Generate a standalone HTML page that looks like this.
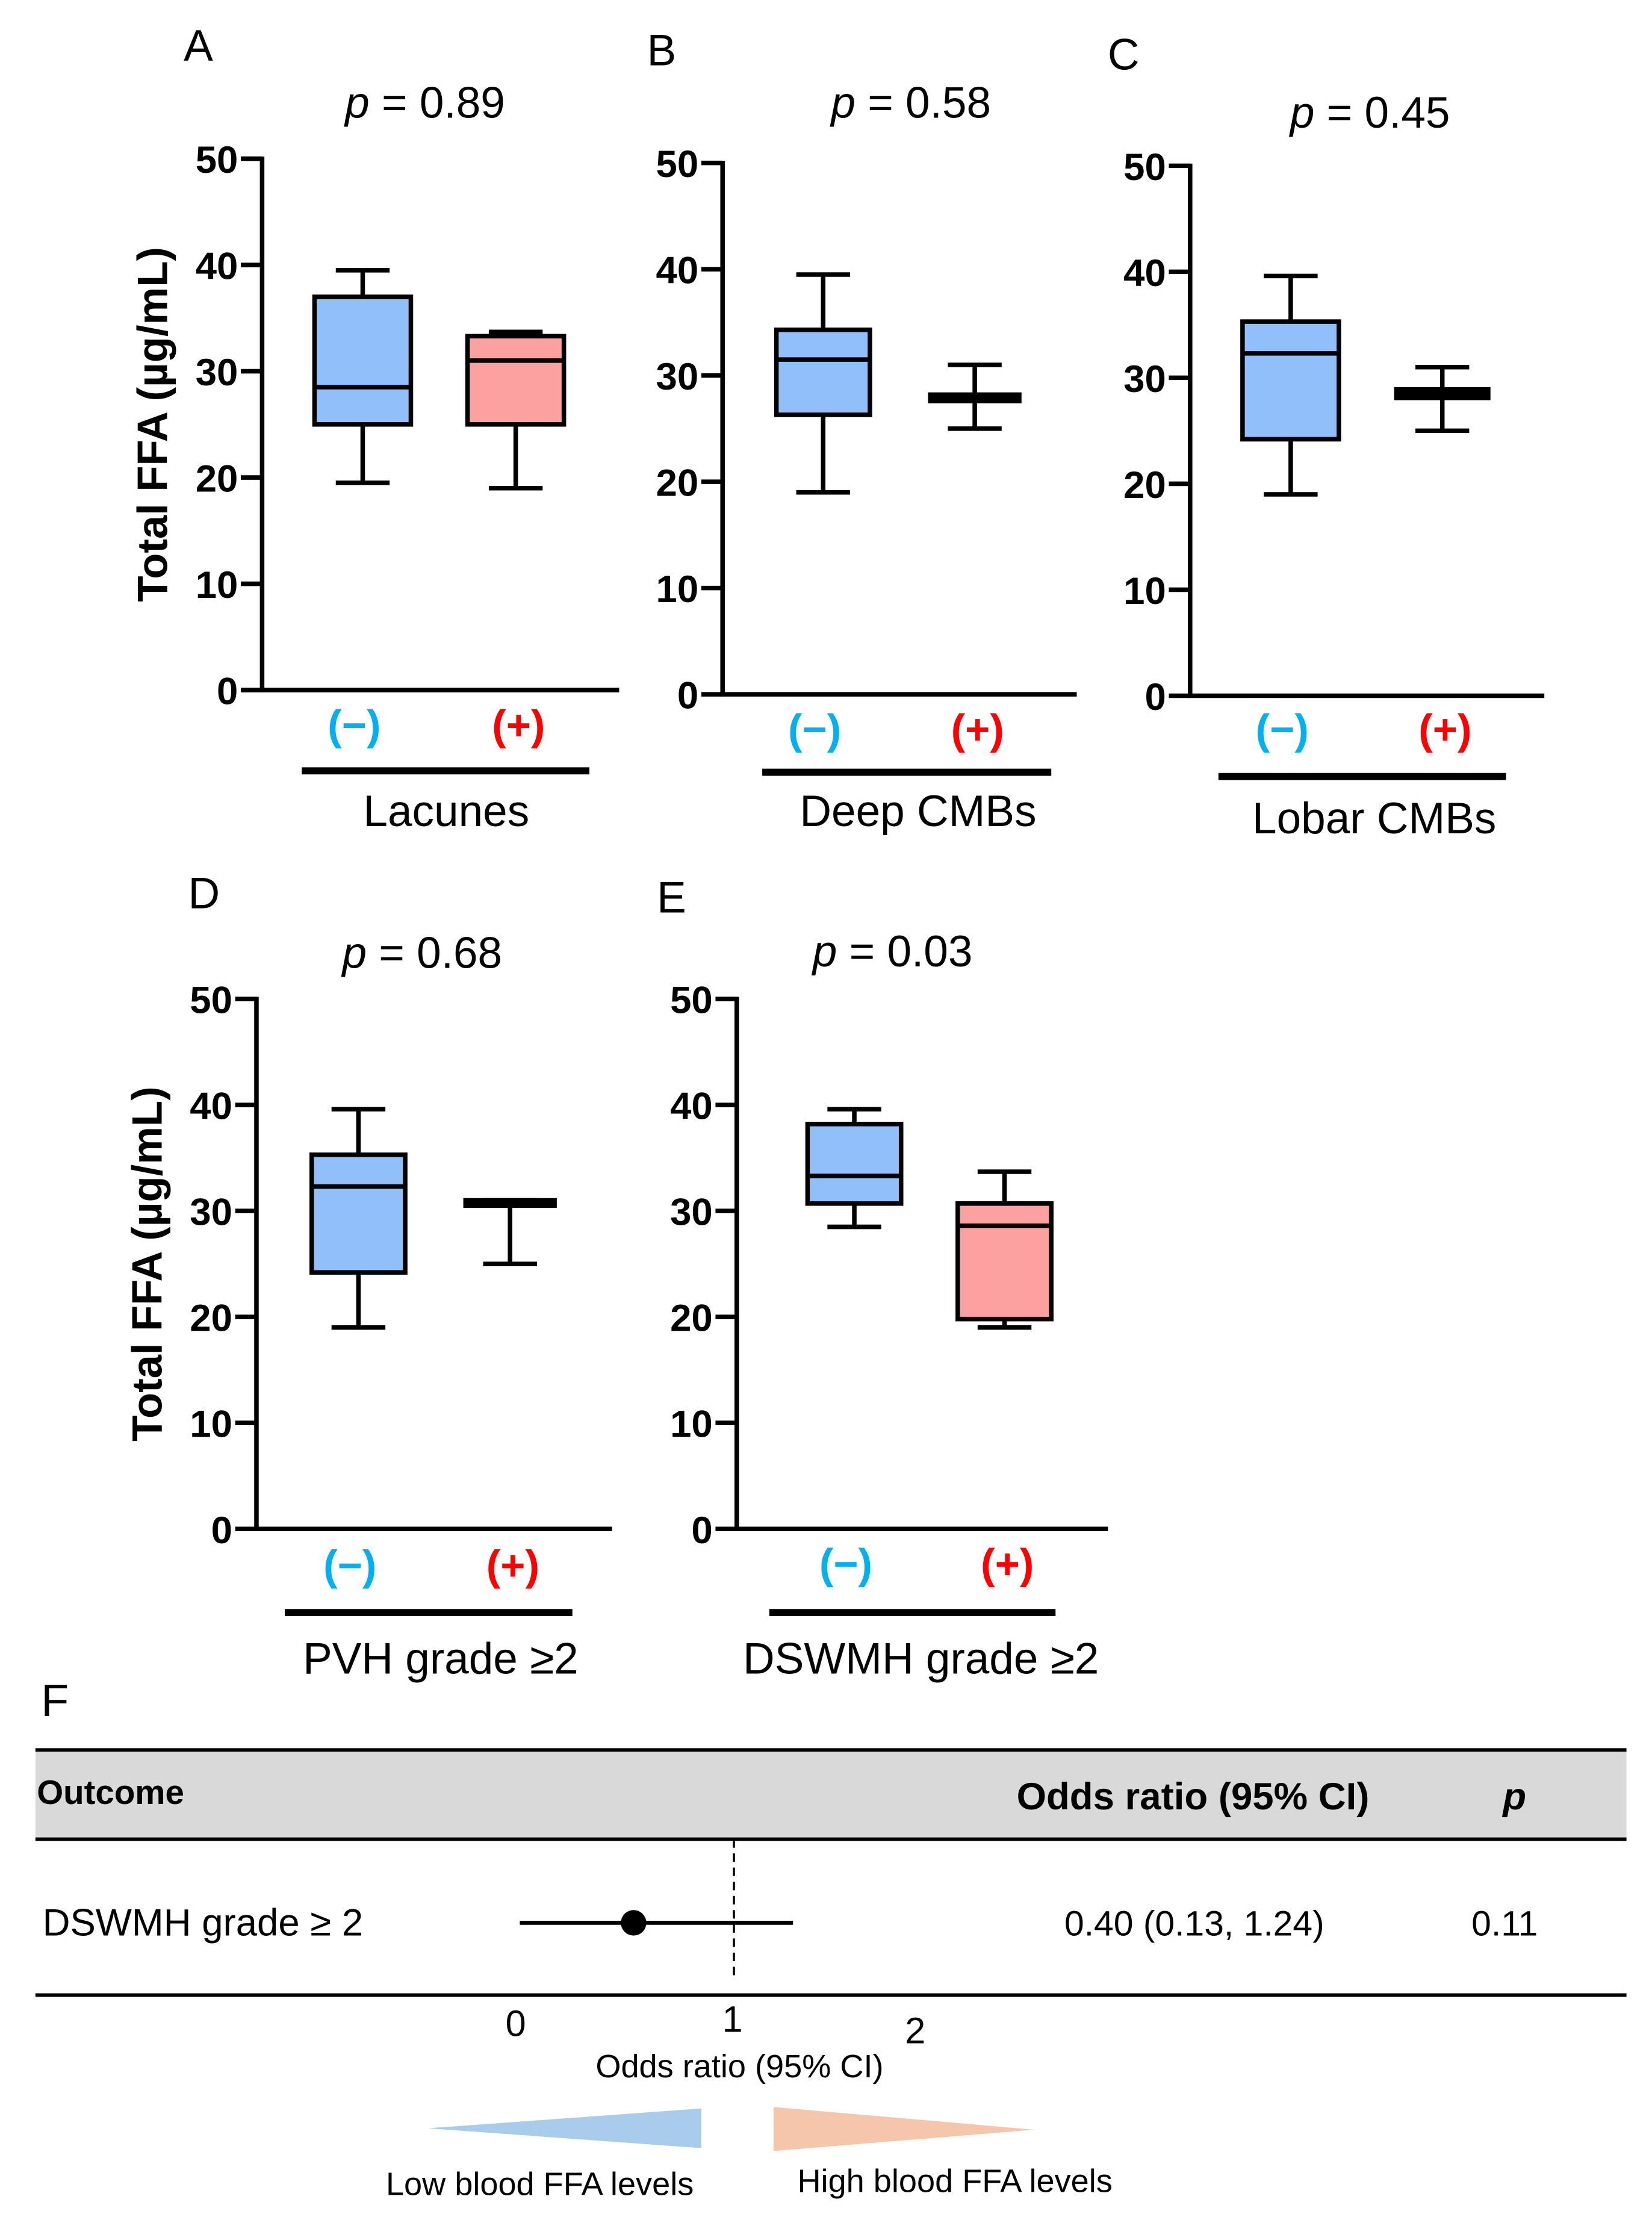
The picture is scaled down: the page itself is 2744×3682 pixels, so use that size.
<!DOCTYPE html>
<html><head><meta charset="utf-8"><style>
html,body{margin:0;padding:0;background:#fff}
svg{display:block}
text{font-family:"Liberation Sans",Arial,sans-serif}
</style></head><body>
<svg id="fig" width="2744" height="3682" viewBox="0 0 1166 1564.6" xmlns="http://www.w3.org/2000/svg">
<rect width="1166" height="1565" fill="#fff"/>
<g id="panels"></g>
<g id="forest"></g>
</svg>
<script>
const NS="http://www.w3.org/2000/svg";
const panelLetters=["A","B","C","D","E"];
const pValues=["0.89","0.58","0.45","0.68","0.03"];
const groupNames=["Lacunes","Deep CMBs","Lobar CMBs","PVH grade \u22652","DSWMH grade \u22652"];
const yTicks=[0,10,20,30,40,50];
// [min,q1,median,q3,max]
const negStats=[[19.5,25,28.5,37,39.5],[19,26.3,31.5,34.3,39.5],[19,24.2,32.3,35.3,39.6],[19,24.2,32.3,35.3,39.6],[28.5,30.7,33.3,38.2,39.6]];
const posStats=[[19,25,31,33.3,33.7],[25,27.6,28,28.2,31],[25,28.1,28.5,28.9,31],[25,30.5,30.8,31,31],[19,19.8,28.6,30.7,33.7]];
// layout (not data)
const L=[
 {ax:185,y50:112,y0:487,xe:437,c1:256,c2:364,bw:68,lx:140,ly:32,py:72,pc:300,barY:544,bx1:213,bx2:416,gc:315,gy:572,cy:511,yt:true},
 {ax:510,y50:115,y0:490,xe:760,c1:581,c2:688,bw:66,lx:467,ly:35,py:72,pc:643,barY:545,bx1:538,bx2:742,gc:648,gy:572,cy:514},
 {ax:840,y50:117,y0:491,xe:1090,c1:911,c2:1018,bw:68,lx:793,ly:38,py:79,pc:967,barY:548,bx1:860,bx2:1063,gc:970,gy:577,cy:514},
 {ax:181,y50:705,y0:1079,xe:432,c1:253,c2:360,bw:66,lx:144,ly:630,py:672,pc:298,barY:1138,bx1:201,bx2:404,gc:311,gy:1170,cy:1104,yt:true},
 {ax:520,y50:705,y0:1079,xe:782,c1:603,c2:709,bw:66,lx:474,ly:633,py:671,pc:630,barY:1138,bx1:543,bx2:745,gc:650,gy:1170,cy:1103}
];
function el(tag,attrs,parent,txt){const e=document.createElementNS(NS,tag);for(const k in attrs)e.setAttribute(k,attrs[k]);if(txt!==undefined)e.textContent=txt;parent.appendChild(e);return e;}
const panels=document.getElementById('panels');
L.forEach((g,i)=>{
 const G=el('g',{},panels);
 
 
 const y=v=>g.y0+(g.y50-g.y0)*v/50;
 const t=el('text',{x:g.lx,y:g.ly+11,'font-size':31,'text-anchor':'middle'},G,panelLetters[i]);
 
 const p=el('text',{x:g.pc,y:g.py+11,'font-size':31,'text-anchor':'middle'},G);
 
 el('tspan',{'font-style':'italic'},p,'p');el('tspan',{},p,' = '+pValues[i]);
 const ax=el('path',{d:`M${g.ax} ${y(50)-1.5}V${g.y0}H${g.xe}`,stroke:'#000','stroke-width':3.2,fill:'none'},G);
 
 yTicks.forEach(v=>{
  el('line',{x1:g.ax-15,x2:g.ax,y1:y(v),y2:y(v),stroke:'#000','stroke-width':3.2},G);
  const tl=el('text',{x:g.ax-17,y:y(v)+10,'font-size':27,'font-weight':'bold','text-anchor':'end'},G,String(v));
  
 });
 if(g.yt){const yt=el('text',{x:0,y:0,'font-size':30,'font-weight':'bold','text-anchor':'middle',transform:`translate(${g.ax-67},${(g.y0+g.y50)/2}) rotate(-90)`},G,'Total FFA (\u00b5g/mL)');
  }
 [[negStats[i],g.c1,'#91bff9'],[posStats[i],g.c2,'#fca0a0']].forEach(([s,c,f],k)=>{
  const B=el('g',{},G);
  
  const h=g.bw/2,cw=19;
  el('line',{x1:c,x2:c,y1:y(s[0]),y2:y(s[4]),stroke:'#000','stroke-width':3.2},B);
  el('line',{x1:c-cw,x2:c+cw,y1:y(s[0]),y2:y(s[0]),stroke:'#000','stroke-width':3.2},B);
  el('line',{x1:c-cw,x2:c+cw,y1:y(s[4]),y2:y(s[4]),stroke:'#000','stroke-width':3.2},B);
  const hgt=y(s[1])-y(s[3]);
  if(hgt>6){el('rect',{x:c-h,y:y(s[3]),width:g.bw,height:hgt,fill:f,stroke:'#000','stroke-width':3.2},B);
   el('line',{x1:c-h,x2:c+h,y1:y(s[2]),y2:y(s[2]),stroke:'#000','stroke-width':3.2},B);}
  else{el('rect',{x:c-h,y:y(s[3])-1.6,width:g.bw,height:hgt+3.2,fill:'#000'},B);}
 });
 const m=el('text',{x:g.c1-6,y:g.cy+11,'font-size':30,'font-weight':'bold','text-anchor':'middle',fill:'#00b0f0'},G,'(\u2212)');
 
 const pl=el('text',{x:g.c2+2,y:g.cy+11,'font-size':30,'font-weight':'bold','text-anchor':'middle',fill:'#ff0000'},G,'(+)');
 
 el('line',{x1:g.bx1,x2:g.bx2,y1:g.barY,y2:g.barY,stroke:'#000','stroke-width':5},G);
 const gn=el('text',{x:g.gc,y:g.gy+11,'font-size':31,'text-anchor':'middle'},G,groupNames[i]);
 
});
// Forest plot
const orPoint=[0.40];const orLow=[0.13];const orHigh=[1.24];const orTicks=[0,1,2];
const F=document.getElementById('forest');
const xs=v=>364+153*v;
const f1=el('text',{x:29,y:1211,'font-size':32},F,'F');

el('rect',{x:25,y:1235,width:1123,height:63,fill:'#d9d9d9'},F);
el('line',{x1:25,x2:1148,y1:1235,y2:1235,stroke:'#000','stroke-width':2.5},F);
el('line',{x1:25,x2:1148,y1:1298,y2:1298,stroke:'#000','stroke-width':2.5},F);
el('line',{x1:25,x2:1148,y1:1408,y2:1408,stroke:'#000','stroke-width':2.5},F);
const h1=el('text',{x:26,y:1273,'font-size':24,'font-weight':'bold'},F,'Outcome');
const h2=el('text',{x:842,y:1277,'font-size':27,'font-weight':'bold','text-anchor':'middle'},F,'Odds ratio (95%  CI)');
const h3=el('text',{x:1069,y:1277,'font-size':27,'font-weight':'bold','font-style':'italic','text-anchor':'middle'},F,'p');
const r1=el('text',{x:30,y:1366,'font-size':27},F,'DSWMH grade  \u2265 2');
el('line',{x1:xs(1)+1,x2:xs(1)+1,y1:1298,y2:1397,stroke:'#000','stroke-width':1.5,'stroke-dasharray':'6,4'},F);
const ci=el('line',{x1:xs(orLow[0])-17,x2:xs(orHigh[0])+6,y1:1357,y2:1357,stroke:'#000','stroke-width':2.8},F);

const pt=el('circle',{cx:xs(orPoint[0])+22,cy:1357,r:9,fill:'#000'},F);

const r2=el('text',{x:843,y:1366,'font-size':25,'text-anchor':'middle'},F,'0.40 (0.13, 1.24)');
const r3=el('text',{x:1062,y:1366,'font-size':25,'text-anchor':'middle'},F,'0.11');
orTicks.forEach((v,k)=>{const tk=el('text',{x:xs(v)+(k==2?-24:0),y:1437+(k==2?5:0)-(k==1?3:0),'font-size':26,'text-anchor':'middle'},F,String(v));
 });
const xt=el('text',{x:522,y:1466,'font-size':23,'text-anchor':'middle'},F,'Odds ratio (95% CI)');
const tb=el('polygon',{points:'302,1502 495,1488 495,1516',fill:'#a9cbec'},F);
const to=el('polygon',{points:'546,1487 730,1503 546,1518',fill:'#f5c6ab'},F);
const lo=el('text',{x:381,y:1549,'font-size':23,'text-anchor':'middle'},F,'Low blood FFA levels');
const hi=el('text',{x:674,y:1547,'font-size':23,'text-anchor':'middle'},F,'High blood FFA levels');
</script>
</body></html>
